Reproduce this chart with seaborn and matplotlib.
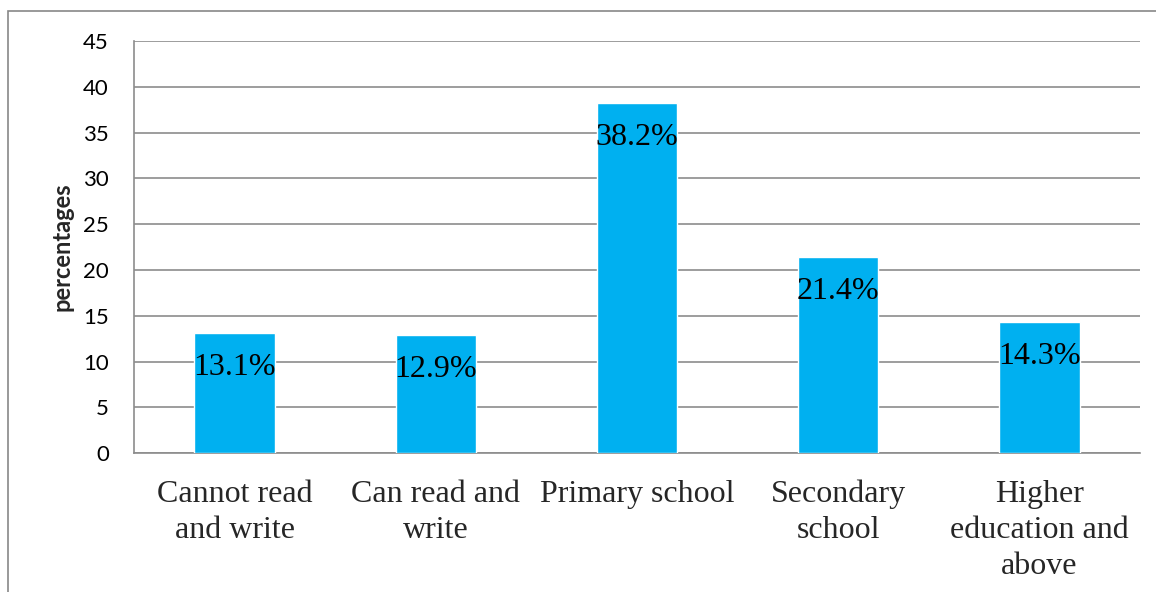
import matplotlib
matplotlib.use("Agg")
import matplotlib.pyplot as plt
import seaborn as sns
import pandas as pd
from matplotlib.patches import Rectangle

# Education level distribution
categories = [
    "Cannot read\nand write",
    "Can read and\nwrite",
    "Primary school",
    "Secondary\nschool",
    "Higher\neducation and\nabove",
]
values = [13.1, 12.9, 38.2, 21.4, 14.3]
value_labels = ["13.1%", "12.9%", "38.2%", "21.4%", "14.3%"]
y_ticks = [0, 5, 10, 15, 20, 25, 30, 35, 40, 45]

df = pd.DataFrame({"level": categories, "pct": values})

sns.set_theme(style="white")
plt.rcParams["font.family"] = ["Lato", "DejaVu Sans"]

fig = plt.figure(figsize=(11.56, 5.92), dpi=100)
ax = fig.add_axes([134 / 1156, 1 - 453.3 / 592, (1140 - 134) / 1156, (453.3 - 41) / 592])

sns.barplot(data=df, x="level", y="pct", color="#00B0F0", width=0.40,
            saturation=1, ax=ax, zorder=3)

grid_color = "#8c8c8c"
ax.set_ylim(0, 45)
ax.set_yticks(y_ticks)
ax.yaxis.grid(True, color=grid_color, linewidth=1.2, zorder=0)
ax.set_axisbelow(True)
for side in ["top", "right"]:
    ax.spines[side].set_visible(False)
for side in ["left", "bottom"]:
    ax.spines[side].set_color(grid_color)
    ax.spines[side].set_linewidth(1.2)

ax.tick_params(axis="y", length=0, pad=18, labelsize=16, labelcolor="black")
ax.tick_params(axis="x", length=0, pad=19)
for lbl in ax.get_xticklabels():
    lbl.set_fontfamily("Liberation Serif")
    lbl.set_fontsize(23)
    lbl.set_linespacing(1.32)
    lbl.set_verticalalignment("top")

ax.set_xlabel("")
ax.set_ylabel("percentages", fontsize=17, fontweight="bold", labelpad=7)

# Value labels just inside the top of each bar
for patch, txt in zip(ax.patches, value_labels):
    cx = patch.get_x() + patch.get_width() / 2
    top = patch.get_height()
    ax.annotate(txt, (cx, top), xytext=(0, -24.5), textcoords="offset points",
                ha="center", va="center", fontsize=23,
                fontfamily="Liberation Serif", color="black", zorder=4)

# Chart frame
fig.patches.append(Rectangle((8 / 1156, -0.1), 1.2, 1 - 11 / 592 + 0.1,
                             transform=fig.transFigure, fill=False,
                             edgecolor="#878787", linewidth=1.2))

fig.savefig("out.png", dpi=100, facecolor="white")
